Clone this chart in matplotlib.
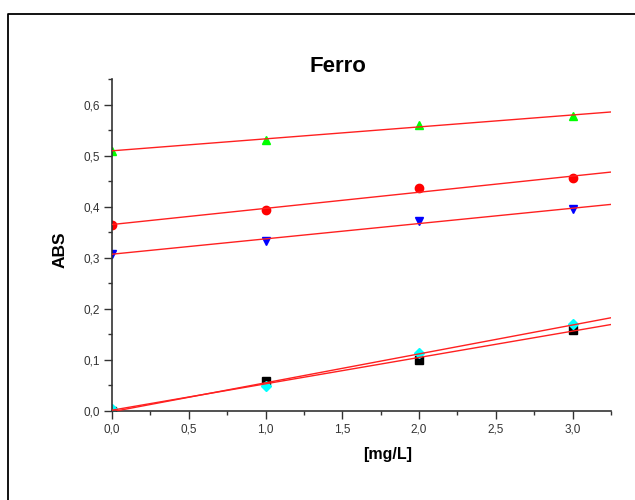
import numpy as np
import matplotlib
matplotlib.use("Agg")
import matplotlib.pyplot as plt
from matplotlib.ticker import MultipleLocator, FuncFormatter
from matplotlib.lines import Line2D

conc = [0.0, 1.0, 2.0, 3.0]

abs_green = [0.510, 0.530, 0.560, 0.578]
abs_red = [0.365, 0.393, 0.436, 0.456]
abs_blue = [0.308, 0.333, 0.372, 0.395]
abs_black = [0.000, 0.058, 0.100, 0.158]
abs_cyan = [0.003, 0.048, 0.113, 0.170]

series = [
    (abs_green, "^", "#00ff00"),
    (abs_red, "o", "#ff0000"),
    (abs_blue, "v", "#0000ff"),
    (abs_black, "s", "#000000"),
    (abs_cyan, "D", "#00ffff"),
]

plt.rcParams["font.family"] = ["Liberation Sans", "DejaVu Sans"]

fig = plt.figure(figsize=(6.35, 5.0), dpi=100)
ax = fig.add_axes([112 / 635, 89 / 500, 499 / 635, 332 / 500])

x_fit = np.array([0.0, 3.25])

for values, marker, color in series:
    ax.plot(
        conc, values,
        linestyle="none",
        marker=marker,
        markersize=6 if marker != "D" else 5,
        color=color,
        zorder=2
    )
    slope, intercept = np.polyfit(conc, values, 1)
    ax.plot(
        x_fit, slope * x_fit + intercept,
        color="#ff2020",
        linewidth=1.0,
        zorder=3
    )

ax.set_xlim(0, 3.25)
ax.set_ylim(0, 0.65)

ax.xaxis.set_major_locator(MultipleLocator(0.5))
ax.xaxis.set_minor_locator(MultipleLocator(0.25))
ax.yaxis.set_major_locator(MultipleLocator(0.1))
ax.yaxis.set_minor_locator(MultipleLocator(0.05))

comma = FuncFormatter(lambda v, pos: f"{v:.1f}".replace(".", ","))
ax.xaxis.set_major_formatter(comma)
ax.yaxis.set_major_formatter(comma)

for side in ["top", "right"]:
    ax.spines[side].set_visible(False)
for side in ["left", "bottom"]:
    ax.spines[side].set_color("#333333")
    ax.spines[side].set_linewidth(1.2)

ax.tick_params(
    which="major", direction="out", length=6, width=1,
    color="#333333", labelsize=8.5, labelcolor="#333333", pad=3
)
ax.tick_params(
    which="minor", direction="out", length=3, width=1,
    color="#333333"
)

fig.text(
    338 / 635, 1 - 66 / 500, "Ferro",
    ha="center", va="center",
    fontsize=16, fontweight="bold"
)
fig.text(
    388 / 635, 1 - 455 / 500, "[mg/L]",
    ha="center", va="center",
    fontsize=11.5, fontweight="bold"
)
fig.text(
    60 / 635, 1 - 250 / 500, "ABS",
    ha="center", va="center", rotation=90,
    fontsize=12.5, fontweight="bold"
)

# outer frame (only the top and left edges are visible)
fig.add_artist(Line2D(
    [7.5 / 635, 7.5 / 635, 1.0],
    [0.0, 1 - 13.5 / 500, 1 - 13.5 / 500],
    transform=fig.transFigure, color="black", linewidth=1.3
))

fig.savefig("out.png", dpi=100)
plt.close(fig)
